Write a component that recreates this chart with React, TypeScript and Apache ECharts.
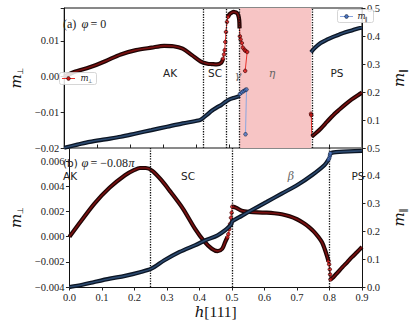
import React, { useEffect, useRef } from 'react';
import * as echarts from 'echarts';

// ---------- panel (a): phi = 0 ----------
const aPerpAK = [[0, 0], [0.03, 0.0013], [0.077, 0.0026], [0.124, 0.0043], [0.171, 0.0062], [0.217, 0.0074], [0.264, 0.0081], [0.302, 0.0086], [0.33, 0.0085], [0.358, 0.0078], [0.386, 0.006], [0.413, 0.0042], [0.433, 0.0036], [0.446, 0.0035], [0.461, 0.0034], [0.475, 0.0039], [0.48, 0.005]];
const aPerpRise = [[0.48, 0.005], [0.483, 0.0062], [0.485, 0.0074], [0.487, 0.0097], [0.489, 0.0125], [0.492, 0.0153], [0.495, 0.0167]];
const aPerpHump = [[0.495, 0.0167], [0.499, 0.0174], [0.503, 0.0177], [0.508, 0.018], [0.512, 0.0181], [0.517, 0.018], [0.522, 0.0178], [0.526, 0.0172], [0.529, 0.0158], [0.53, 0.0135]];
const aPerpTail = [[0.531, 0.0113], [0.533, 0.0104], [0.537, 0.0094], [0.54, 0.0081], [0.545, 0.0075], [0.548, 0.0072], [0.553, 0.0069], [0.547, 0.0016]];
const aPerpPSJump = [[0.746, -0.0104], [0.747, -0.0108]];
const aPerpPS = [[0.748, -0.0168], [0.761, -0.0158], [0.775, -0.0146], [0.794, -0.0127], [0.813, -0.0108], [0.831, -0.0093], [0.85, -0.0078], [0.869, -0.0064], [0.888, -0.0052], [0.9, -0.0045]];

const aParAK = [[0, 0.001], [0.04, 0.012], [0.077, 0.022], [0.124, 0.031], [0.171, 0.04], [0.217, 0.052], [0.264, 0.064], [0.311, 0.076], [0.358, 0.088], [0.405, 0.098], [0.416, 0.104], [0.433, 0.12], [0.447, 0.134], [0.462, 0.145], [0.475, 0.154], [0.489, 0.166], [0.498, 0.173], [0.512, 0.179], [0.527, 0.184], [0.53, 0.186]];
const aParTail = [[0.531, 0.193], [0.537, 0.199], [0.542, 0.203], [0.547, 0.207], [0.551, 0.209], [0.548, 0.049]];
const aParPS = [[0.746, 0.342], [0.757, 0.357], [0.775, 0.375], [0.794, 0.387], [0.813, 0.397], [0.831, 0.405], [0.85, 0.413], [0.869, 0.42], [0.888, 0.427], [0.9, 0.43]];

const aBounds = [0.416, 0.489, 0.53, 0.747];
const aEta = [0.53, 0.747];

// ---------- panel (b): phi = -0.08 pi ----------
const bPerp1 = [[0, 0], [0.03, 0.00104], [0.077, 0.00263], [0.124, 0.0039], [0.171, 0.00488], [0.2, 0.0053], [0.217, 0.00545], [0.235, 0.00545], [0.255, 0.00523], [0.283, 0.00449], [0.311, 0.00356], [0.349, 0.00223], [0.386, 0.00064], [0.414, -0.00035], [0.438, -0.00096], [0.456, -0.00115], [0.47, -0.00096], [0.479, -0.00043], [0.486, -0.00005]];
const bPerpRise = [[0.486, -0.00005], [0.489, 0.0002], [0.492, 0.0006], [0.494, 0.001], [0.497, 0.0015], [0.499, 0.0019], [0.501, 0.00238]];
const bPerp2 = [[0.501, 0.00238], [0.512, 0.0023], [0.53, 0.00205], [0.555, 0.00196], [0.58, 0.00192], [0.607, 0.0019], [0.63, 0.00186], [0.653, 0.00178], [0.677, 0.00162], [0.7, 0.00138], [0.72, 0.00108], [0.738, 0.00074], [0.752, 0.0004], [0.766, -0.00003], [0.777, -0.00045], [0.785, -0.00096], [0.792, -0.0015], [0.797, -0.00195]];
const bPerpFall = [[0.797, -0.00195], [0.799, -0.0022], [0.801, -0.0026], [0.802, -0.003], [0.803, -0.0034]];
const bPerp3 = [[0.803, -0.0034], [0.812, -0.00322], [0.826, -0.00282], [0.84, -0.00242], [0.855, -0.00202], [0.869, -0.00163], [0.885, -0.00122], [0.9, -0.00083]];

const bPar1 = [[0, 0], [0.04, 0.008], [0.077, 0.018], [0.124, 0.03], [0.171, 0.04], [0.217, 0.053], [0.252, 0.066], [0.292, 0.096], [0.339, 0.126], [0.386, 0.15], [0.419, 0.168], [0.456, 0.186], [0.48, 0.205], [0.494, 0.22], [0.498, 0.226], [0.501, 0.236], [0.53, 0.256], [0.56, 0.276], [0.607, 0.306], [0.653, 0.336], [0.7, 0.366], [0.747, 0.403], [0.785, 0.439], [0.797, 0.458]];
const bParRise = [[0.797, 0.458], [0.799, 0.463], [0.801, 0.47], [0.802, 0.476], [0.803, 0.481]];
const bPar3 = [[0.803, 0.481], [0.813, 0.484], [0.83, 0.486], [0.86, 0.488], [0.9, 0.49]];

const bBounds = [0.253, 0.5, 0.802];

// ---------- styling ----------
const RED = { thin: '#e8302a', under: '#1f0505', over: '#7a1010', face: '#d01818', edge: '#3a0000' };
const BLUE = { thin: '#8aa6e0', under: '#0b1524', over: '#2c4a70', face: '#4d78c8', edge: '#10203a' };
const SERIF = 'Liberation Serif';

// label formatter: only multiples of step are labelled, optional value to skip
const fmt = (d: number, step: number, skip?: number) => (v: number) => {
  const k = v / step;
  if (Math.abs(k - Math.round(k)) > 1e-6) return '';
  if (skip !== undefined && Math.abs(v - skip) < 1e-9) return '';
  const x = Math.abs(v) < 1e-12 ? 0 : v;
  return x.toFixed(d).replace('-', '\u2212');
};

function curve(thinGroups: number[][][], dense: number[][][], sparse: number[][][], c: any, xi: number, yi: number, zb: number) {
  const s: any[] = [];
  thinGroups.forEach((g) => s.push({ type: 'line', xAxisIndex: xi, yAxisIndex: yi, data: g, showSymbol: false, z: 2, silent: true, lineStyle: { color: c.thin, width: 1 } }));
  dense.forEach((g) => {
    s.push({ type: 'line', xAxisIndex: xi, yAxisIndex: yi, data: g, showSymbol: false, smooth: 0.3, z: zb, silent: true, lineStyle: { color: c.under, width: 4.2 } });
    s.push({ type: 'line', xAxisIndex: xi, yAxisIndex: yi, data: g, showSymbol: false, smooth: 0.3, z: zb, silent: true, lineStyle: { color: c.over, width: 1.6 } });
  });
  sparse.forEach((g) => s.push({ type: 'scatter', xAxisIndex: xi, yAxisIndex: yi, data: g, symbol: 'circle', symbolSize: 3.6, z: zb + 1, silent: true, itemStyle: { color: c.face, borderColor: c.edge, borderWidth: 0.8 } }));
  return s;
}

const labStyle = { fontFamily: SERIF, fontSize: 10.5, color: '#222' };
const tick = (inside = false) => ({ show: true, inside, length: 3.5, lineStyle: { color: '#222', width: 1 } });
const line = (color = '#111', width = 1) => ({ show: true, onZero: false, lineStyle: { color, width } });

const T = (x: number, y: number, text: string, font: string, size: number, italic = false, fill = '#222', align = 'left') => ({
  type: 'text', x, y, silent: true, z: 62,
  style: { text, fontFamily: font, fontSize: size, fontStyle: italic ? 'italic' : 'normal', fill, align, verticalAlign: 'middle' },
});

function buildOption(): any {
  const series: any[] = [];
  series.push({
    type: 'line', xAxisIndex: 0, yAxisIndex: 0, data: [], z: 1, silent: true,
    markArea: { silent: true, itemStyle: { color: '#f7c5c5' }, data: [[{ xAxis: aEta[0] }, { xAxis: aEta[1] }]] },
    markLine: { silent: true, symbol: ['none', 'none'], label: { show: false }, lineStyle: { type: 'dotted', color: '#111', width: 1.3 }, data: aBounds.map((x) => ({ xAxis: x })) },
  });
  series.push({
    type: 'line', xAxisIndex: 1, yAxisIndex: 2, data: [], z: 1, silent: true,
    markLine: { silent: true, symbol: ['none', 'none'], label: { show: false }, lineStyle: { type: 'dotted', color: '#111', width: 1.3 }, data: bBounds.map((x) => ({ xAxis: x })) },
  });
  series.push(...curve([[...aPerpAK, ...aPerpRise, ...aPerpHump, ...aPerpTail], [...aPerpPSJump, ...aPerpPS]], [aPerpAK, aPerpHump, aPerpPS], [aPerpRise, aPerpTail, aPerpPSJump], RED, 0, 0, 3));
  series.push(...curve([[...aParAK, ...aParTail], aParPS], [aParAK, aParPS], [aParTail], BLUE, 0, 1, 5));
  series.push(...curve([[...bPerp1, ...bPerpRise, ...bPerp2, ...bPerpFall, ...bPerp3]], [bPerp1, bPerp2, bPerp3], [bPerpRise, bPerpFall], RED, 1, 2, 3));
  series.push(...curve([[...bPar1, ...bParRise, ...bPar3]], [bPar1, bPar3], [bParRise], BLUE, 1, 3, 5));

  const nameRich = {
    m: { fontFamily: 'DejaVu Serif', fontStyle: 'italic', fontSize: 15, color: '#111' },
    s: { fontFamily: 'DejaVu Sans', fontSize: 8, color: '#111', padding: [9, 0, 0, 0] },
  };

  const SANS = 'DejaVu Sans';
  const graphic: any[] = [
    // (a) phi = 0
    T(63, 24, '(a)', SERIF, 12), T(81.5, 24, '\u03c6', SERIF, 12.5, true), T(90.5, 24, '= 0', SERIF, 12),
    // (b) phi = -0.08 pi
    T(63, 163, '(b)', SANS, 10.5), T(81.5, 163, '\u03c6', SERIF, 12.5, true), T(90.5, 163, '= \u22120.08', SERIF, 12), T(128.5, 163, '\u03c0', SERIF, 12, true),
    // phase labels (a)
    T(170, 73, 'AK', SANS, 10.5, false, '#222', 'center'), T(215, 73, 'SC', SANS, 10.5, false, '#222', 'center'),
    T(238, 75, '\u03b3', 'DejaVu Serif', 11, true, '#666', 'center'), T(272, 73, '\u03b7', 'DejaVu Serif', 11, true, '#666', 'center'),
    T(337, 73, 'PS', SANS, 10.5, false, '#222', 'center'),
    // phase labels (b)
    T(70, 176, 'AK', SANS, 10.5, false, '#222', 'center'), T(188, 176, 'SC', SANS, 10.5, false, '#222', 'center'),
    T(291, 176, '\u03b2', 'DejaVu Serif', 11, true, '#666', 'center'), T(358, 176, 'PS', SANS, 10.5, false, '#222', 'center'),
    // legend (a) left: m_perp
    { type: 'rect', z: 60, silent: true, shape: { x: 59.5, y: 72.5, width: 37, height: 12, r: 2 }, style: { fill: 'rgba(255,255,255,0.85)', stroke: '#cccccc', lineWidth: 0.8 } },
    { type: 'line', z: 61, silent: true, shape: { x1: 62, y1: 78.5, x2: 75, y2: 78.5 }, style: { stroke: RED.thin, lineWidth: 1 } },
    { type: 'circle', z: 62, silent: true, shape: { cx: 68.5, cy: 78.5, r: 1.8 }, style: { fill: RED.face, stroke: RED.edge, lineWidth: 0.8 } },
    T(80.5, 77.5, 'm', 'DejaVu Serif', 8.5, true), T(87.8, 80.5, '\u22a5', SANS, 5.5),
    // legend (a) right: m_par
    { type: 'rect', z: 60, silent: true, shape: { x: 337.5, y: 9.5, width: 36, height: 13, r: 2 }, style: { fill: 'rgba(255,255,255,0.85)', stroke: '#cccccc', lineWidth: 0.8 } },
    { type: 'line', z: 61, silent: true, shape: { x1: 340, y1: 16.5, x2: 353, y2: 16.5 }, style: { stroke: BLUE.thin, lineWidth: 1 } },
    { type: 'circle', z: 62, silent: true, shape: { cx: 346.5, cy: 16.5, r: 1.8 }, style: { fill: BLUE.face, stroke: BLUE.edge, lineWidth: 0.8 } },
    T(357.5, 15.5, 'm', 'DejaVu Serif', 8.5, true), T(364.8, 18.5, '\u2016', SANS, 5.5),
  ];

  return {
    animation: false,
    backgroundColor: '#ffffff',
    grid: [
      { left: 56, top: 8, width: 320, height: 140, show: true, borderColor: '#111', borderWidth: 1, backgroundColor: 'transparent' },
      { left: 56, top: 148, width: 320, height: 139 },
    ],
    xAxis: [
      { gridIndex: 0, type: 'value', min: 0, max: 0.9, interval: 0.1, axisLine: line('#8a8a8a', 1.5), axisTick: tick(true), axisLabel: { show: false }, splitLine: { show: false } },
      {
        gridIndex: 1, type: 'value', min: 0, max: 0.9, interval: 0.1,
        axisLine: line(), axisTick: tick(), splitLine: { show: false },
        axisLabel: { ...labStyle, margin: 5, formatter: fmt(1, 0.1) },
        name: '{h|h}{b|[111]}', nameLocation: 'middle', nameGap: 6,
        nameTextStyle: { rich: { h: { fontFamily: 'DejaVu Serif', fontStyle: 'italic', fontSize: 15, color: '#111' }, b: { fontFamily: SERIF, fontSize: 15.5, color: '#111' } } },
      },
    ],
    yAxis: [
      {
        gridIndex: 0, type: 'value', position: 'left', min: -0.02, max: 0.0192, interval: 0.01,
        axisLine: line(), axisTick: tick(), splitLine: { show: false },
        axisLabel: { ...labStyle, margin: 5, formatter: fmt(2, 0.01) },
        name: '{m|m}{s|\u22a5}', nameLocation: 'middle', nameRotate: 90, nameGap: 34, nameTextStyle: { rich: nameRich },
      },
      {
        gridIndex: 0, type: 'value', position: 'right', min: 0, max: 0.5, interval: 0.1,
        axisLine: line(), axisTick: tick(), splitLine: { show: false },
        axisLabel: { ...labStyle, margin: 5, formatter: fmt(1, 0.1, 0) },
        name: '{m|m}{s|\u2016}', nameLocation: 'middle', nameRotate: 90, nameGap: 20, nameTextStyle: { rich: nameRich },
      },
      {
        gridIndex: 1, type: 'value', position: 'left', min: -0.004, max: 0.00704, interval: 0.002,
        axisLine: line(), axisTick: tick(), splitLine: { show: false },
        axisLabel: { ...labStyle, margin: 5, formatter: fmt(3, 0.002) },
        name: '{m|m}{s|\u22a5}', nameLocation: 'middle', nameRotate: 90, nameGap: 34, nameTextStyle: { rich: nameRich },
      },
      {
        gridIndex: 1, type: 'value', position: 'right', min: 0, max: 0.5, interval: 0.1,
        axisLine: line(), axisTick: tick(), splitLine: { show: false },
        axisLabel: { ...labStyle, margin: 5, formatter: fmt(1, 0.1) },
        name: '{m|m}{s|\u2016}', nameLocation: 'middle', nameRotate: 90, nameGap: 20, nameTextStyle: { rich: nameRich },
      },
    ],
    series,
    graphic,
  };
}

export default function App() {
  const ref = useRef<HTMLDivElement>(null);
  useEffect(() => {
    const chart = echarts.init(ref.current as HTMLDivElement, null, { renderer: 'svg' });
    chart.setOption(buildOption());
    return () => chart.dispose();
  }, []);
  return <div ref={ref} style={{ position: 'absolute', left: 0, top: 0, width: 415, height: 321 }} />;
}
